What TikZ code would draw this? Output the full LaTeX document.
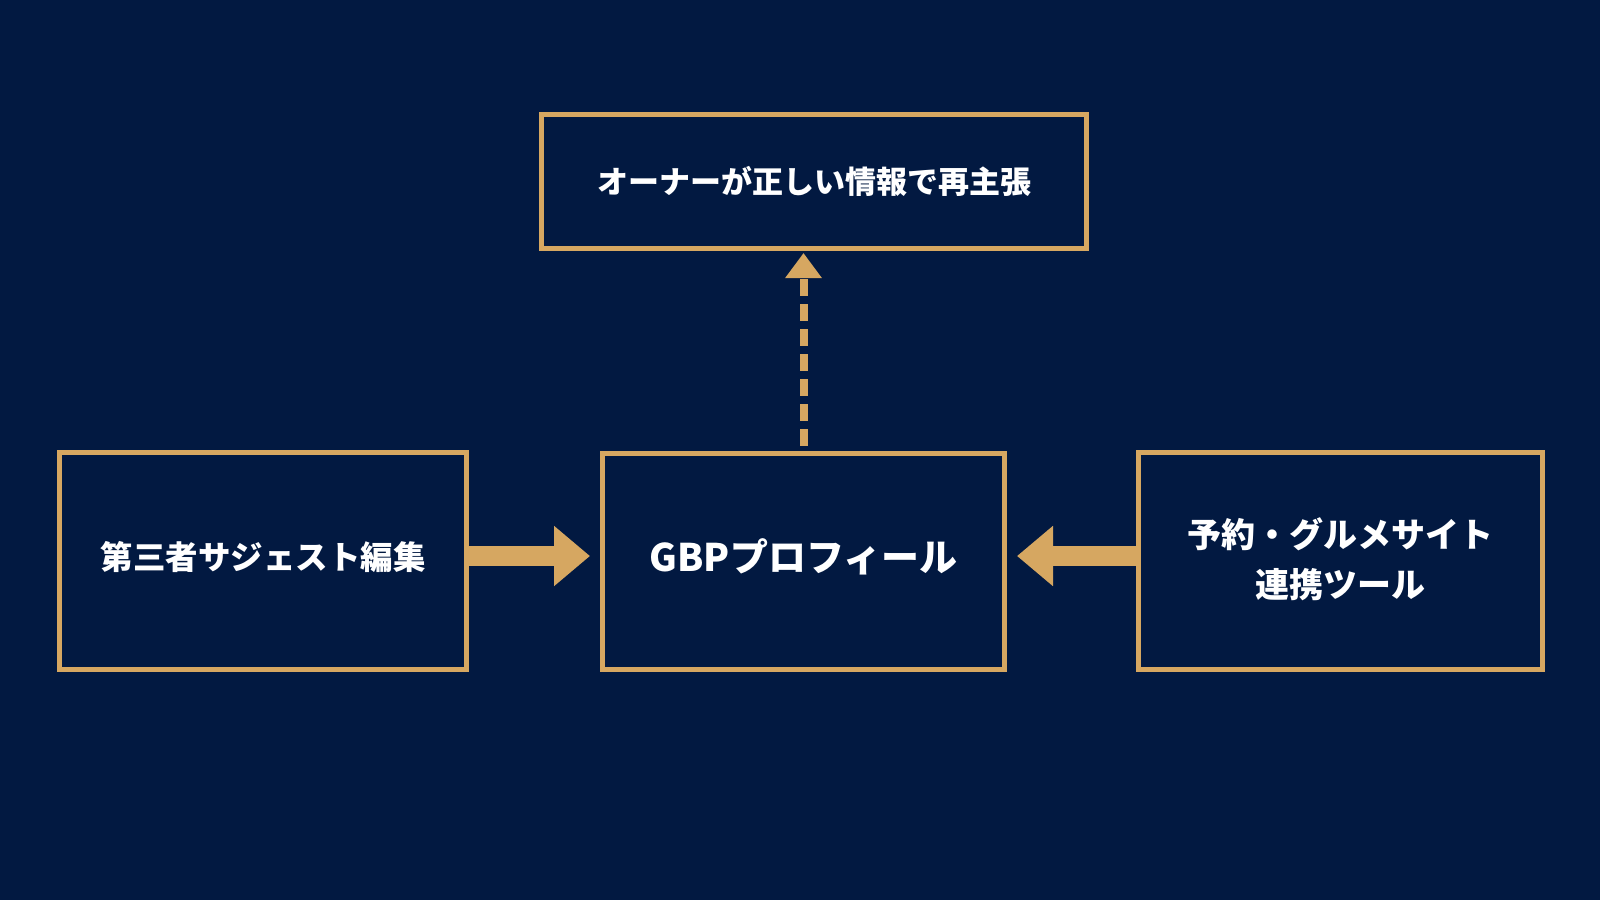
\documentclass[tikz,border=0pt]{standalone}
\usepackage{fontspec}
\newfontfamily\jpfont{Noto Sans CJK JP}
\usetikzlibrary{arrows.meta}
\definecolor{navycolor0001}{RGB}{2,25,65}
\definecolor{goldcolor0002}{RGB}{214,167,97}

\begin{document}
\begin{tikzpicture}[yscale=-1
,pstyle0/.style={fill=navycolor0001}
,pstyle1/.style={draw=goldcolor0002,line width=5pt,text=white,align=center,inner sep=0}
,pstyle2/.style={color=goldcolor0002,line width=20pt,-{Triangle[length=36pt,width=58pt]},transform canvas={yshift=5pt}}
,pstyle3/.style={color=goldcolor0002,line width=8pt,dash pattern=on 17pt off 8pt,-{Triangle[length=25pt,width=35pt]}}
]
\fill[pstyle0] (0pt,0pt) rectangle (1600pt,900pt);
\node (owner) at (814pt,181.5pt)[pstyle1,minimum width=545pt,minimum height=134pt,font=\jpfont\bfseries\fontsize{31pt}{36pt}\selectfont]{オーナーが正しい情報で再主張};
\node (third) at (263pt,561pt)[pstyle1,minimum width=407pt,minimum height=217pt,text depth=11pt,font=\jpfont\bfseries\fontsize{32.5pt}{40pt}\selectfont]{第三者サジェスト編集};
\node (gbp) at (803.5pt,561pt)[pstyle1,minimum width=402pt,minimum height=216pt,text depth=11pt,font=\jpfont\bfseries\fontsize{38pt}{46pt}\selectfont]{GBPプロフィール};
\node (tool) at (1340.5pt,561pt)[pstyle1,minimum width=404pt,minimum height=217pt,text depth=7pt,font=\jpfont\bfseries\fontsize{34pt}{50pt}\selectfont]{予約・グルメサイト\\連携ツール};
\draw[pstyle2,shorten >=10pt] (third.east) -- (gbp.west);
\draw[pstyle2,shorten >=10pt] (tool.west) -- (gbp.east);
\draw[pstyle3,shorten <=5pt,shorten >=2pt] (gbp.north) -- (gbp.north |- owner.south);
\end{tikzpicture}
\end{document}
